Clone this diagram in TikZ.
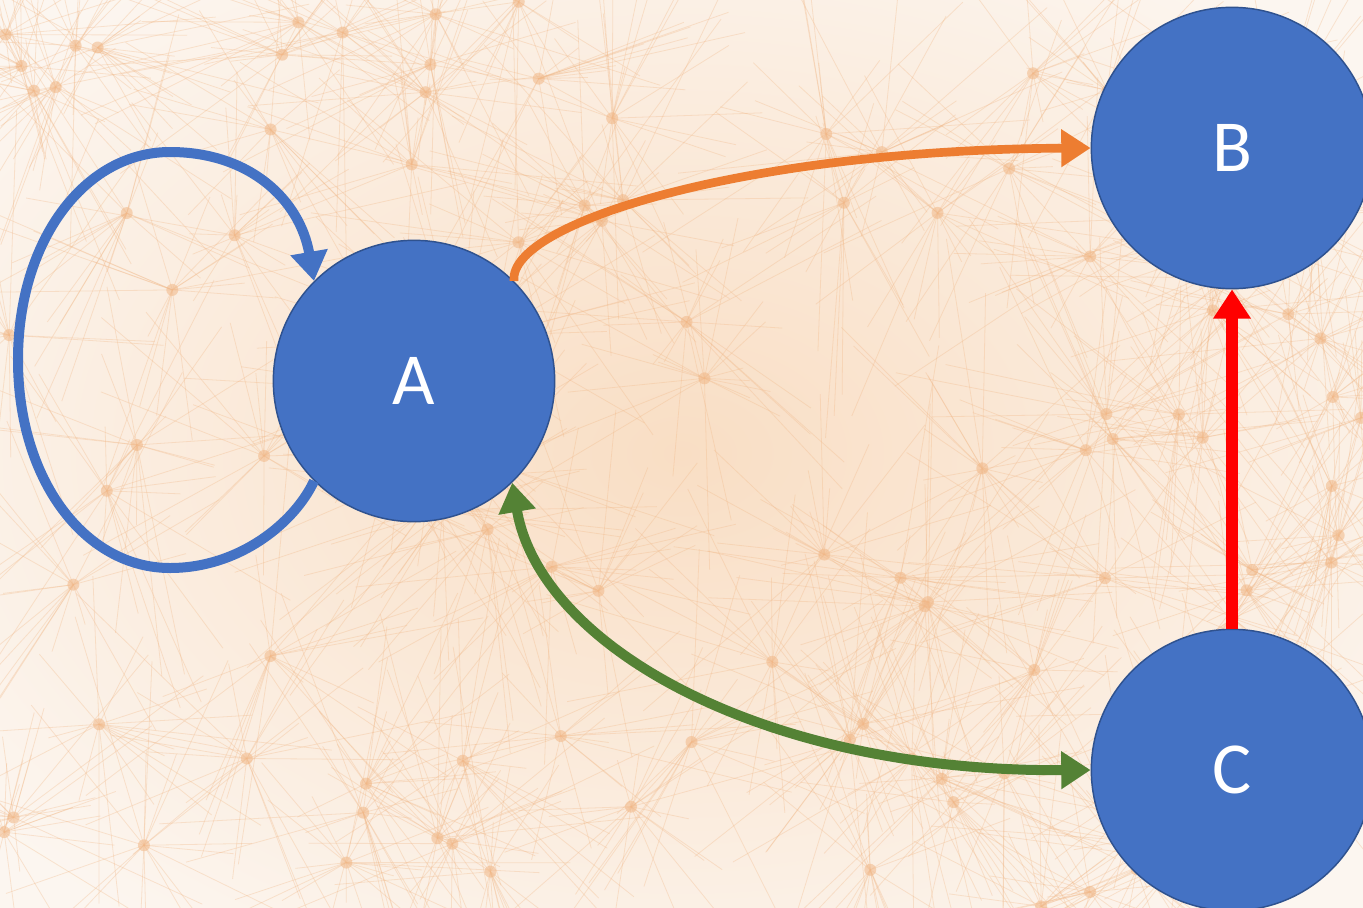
\documentclass[tikz,border=0pt]{standalone}
\usepackage{fontspec}
\setmainfont{Carlito}
\usetikzlibrary{arrows.meta}

\definecolor{nodeblue}{RGB}{68,114,196}
\definecolor{nodeedge}{RGB}{47,82,143}
\definecolor{edgeorange}{RGB}{237,125,49}
\definecolor{edgegreen}{RGB}{84,130,53}
\definecolor{edgered}{RGB}{255,0,0}
\definecolor{bgpeach}{RGB}{249,222,196}
\definecolor{bgpale}{RGB}{252,246,240}
\definecolor{netorange}{RGB}{241,184,136}

\tikzset{
	state/.style={circle, fill=nodeblue, draw=nodeedge, line width=1.1pt, minimum size=211pt, inner sep=0pt, text=white, font=\fontsize{55}{60}\selectfont},
	link/.style={line width=7.5pt, line cap=butt, -{Triangle[length=22pt,width=27pt]}},
	netline/.style={draw=netorange, line width=0.6pt, opacity=0.33},
	netdot/.style={fill=netorange, opacity=0.55}}
\tikzset{every picture/.style={line width=0.75pt}}

\begin{document}
\begin{tikzpicture}[x=0.75pt,y=0.75pt,yscale=-1,xscale=1]
	\useasboundingbox (0,0) rectangle (1363,907);
	\clip (0,0) rectangle (1363,907);

	%Background: faint network
	\shade [inner color=bgpeach, outer color=bgpale] (-200,-150) rectangle (1563,1057);
	\pgfmathsetseed{4711}
	\foreach \i in {1,...,110}{
		\pgfmathsetmacro\hx{rnd*1363}
		\pgfmathsetmacro\hy{rnd*907}
		\coordinate (h\i) at (\hx,\hy);
	}
	\foreach \i in {1,...,110}{
		\foreach \k in {1,...,18}{
			\pgfmathsetmacro\ang{rnd*360}
			\pgfmathsetmacro\len{40+rnd*200}
			\draw [netline] (h\i) -- ++(\ang:\len);
		}
		\fill [netdot] (h\i) circle (6);
	}

	%Shape: Circle [A]
	\node [state] (A) at (414,381) {A};
	%Shape: Circle [B]
	\node [state] (B) at (1232,148) {B};
	%Shape: Circle [C]
	\node [state] (C) at (1232,770) {C};

	%Curve Lines [A to A]
	\draw [link, color=nodeblue] (A.225) .. controls (295,522) and (240,568) .. (170,568) .. controls (85,568) and (18,480) .. (18,360) .. controls (18,240) and (85,152) .. (170,152) .. controls (250,152) and (300,200) .. (A.135);
	%Curve Lines [A to B]
	\draw [link, line width=6.5pt, color=edgeorange] (A.45) .. controls (508,222) and (750,150) .. (B.west);
	%Curve Lines [A to C]
	\draw [link, color=edgegreen, {Triangle[length=22pt,width=27pt]}-{Triangle[length=22pt,width=27pt]}] (A.-46) .. controls (540,645) and (760,772) .. (C.west);
	%Straight Lines [C to B]
	\draw [link, line width=8.5pt, color=edgered] (C.north) -- (B.south);

\end{tikzpicture}
\end{document}
